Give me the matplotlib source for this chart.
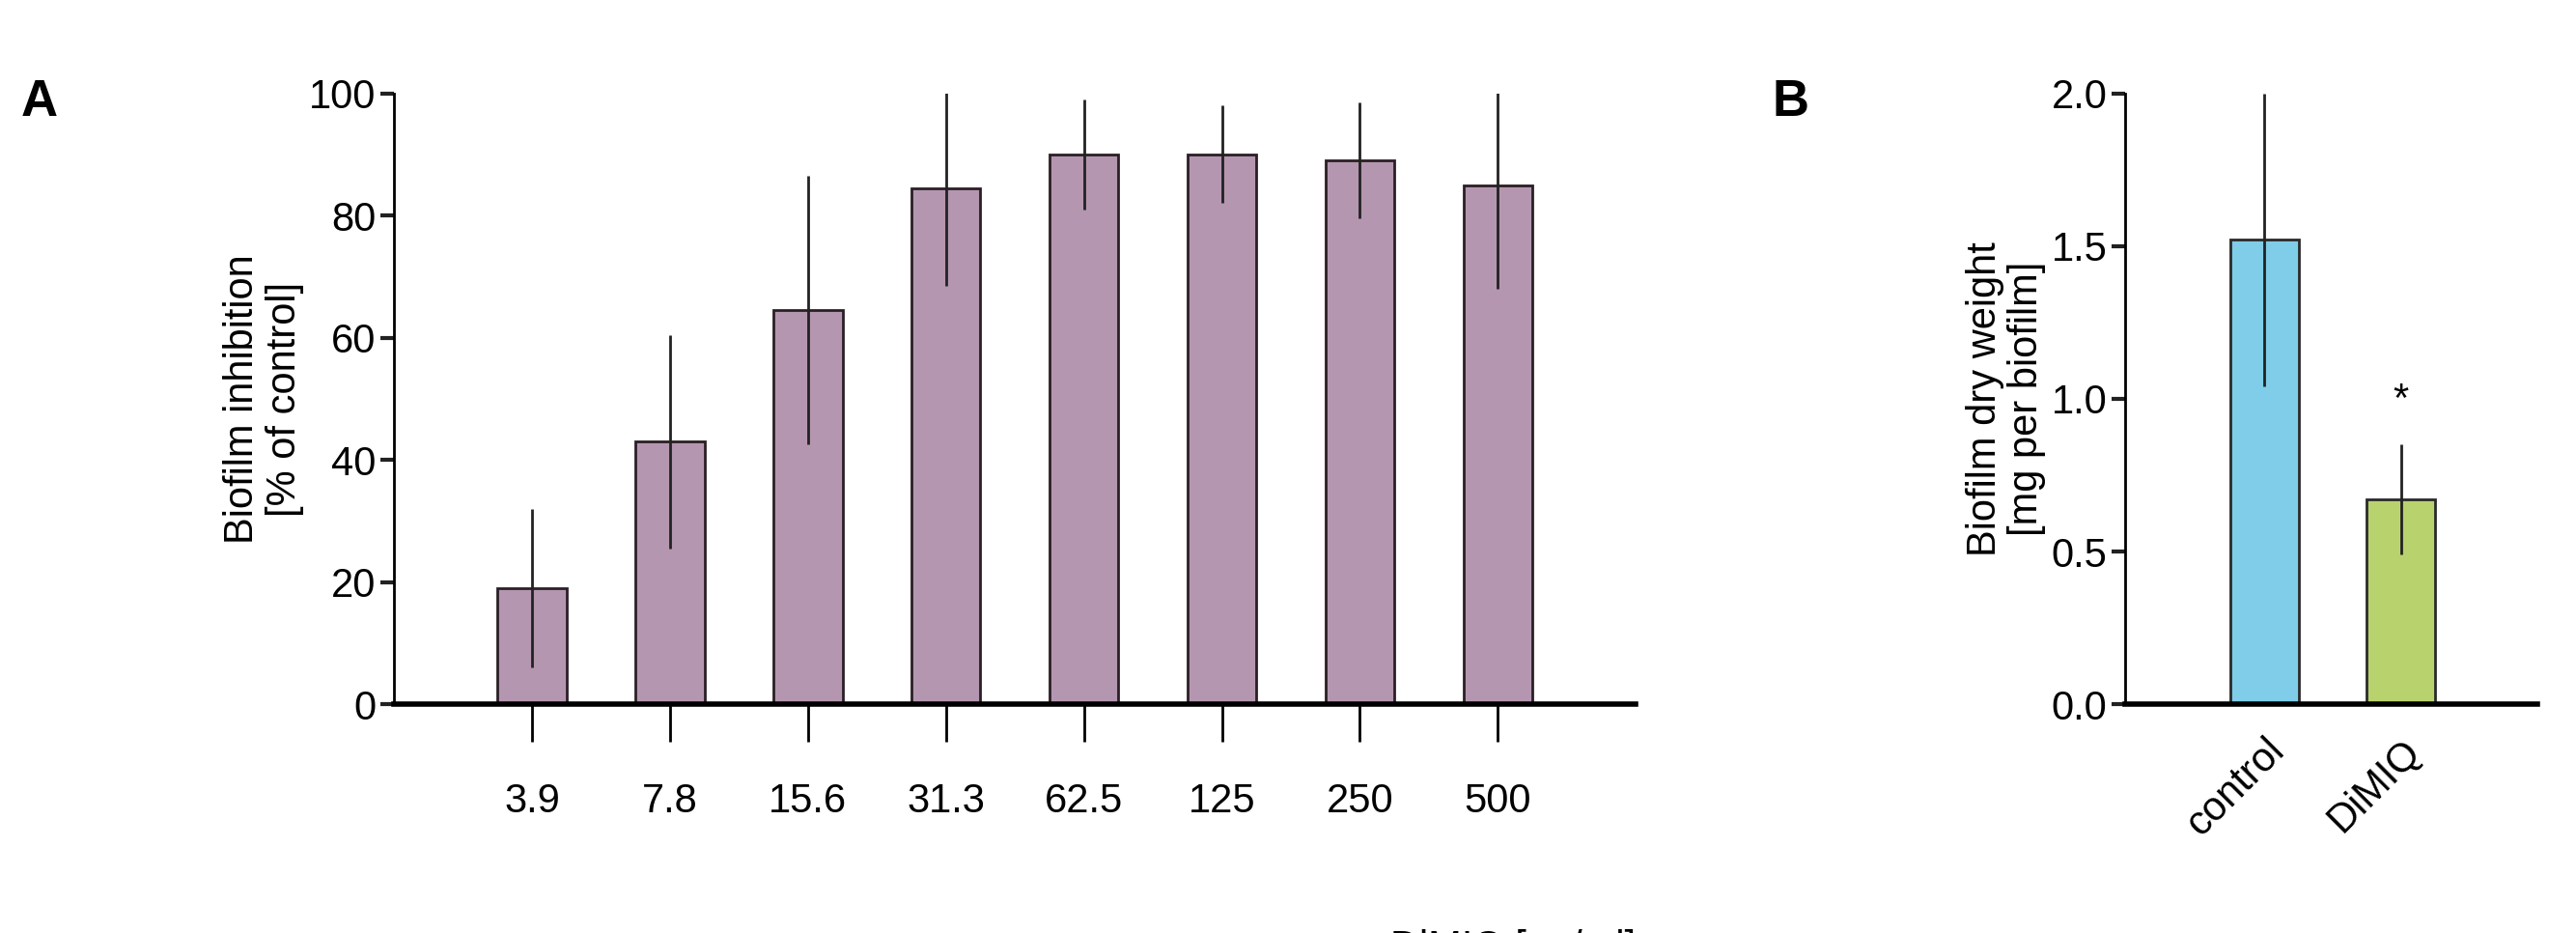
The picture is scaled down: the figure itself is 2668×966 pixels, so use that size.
import numpy as np
import matplotlib.pyplot as plt

plt.rcParams['font.family'] = ['Liberation Sans', 'DejaVu Sans']

conc = ['3.9', '7.8', '15.6', '31.3', '62.5', '125', '250', '500']
inhib = [19, 43, 64.5, 84.5, 90, 90, 89, 85]
inhib_err = [13, 17.5, 22, 16, 9, 8, 9.5, 17]

groups = ['control', 'DiMIQ']
weight = [1.52, 0.67]
weight_err = [0.48, 0.18]

fig = plt.figure(figsize=(26.68, 9.66), dpi=100)
fs = 30

def style(ax):
    for s in ['top', 'right']:
        ax.spines[s].set_visible(False)
    ax.spines['left'].set_linewidth(2)
    ax.spines['bottom'].set_linewidth(4)
    ax.tick_params(axis='y', length=10, width=3, labelsize=fs, color='#222222')
    ax.tick_params(axis='x', length=28, width=2, labelsize=fs, pad=30)

# panel A
ax = fig.add_axes([0.153, 0.245, 0.482, 0.655])
x = np.arange(len(conc))
ax.bar(x, inhib, width=0.5, color='#b596b0', edgecolor='#2a1f25', linewidth=2)
ax.errorbar(x, inhib, yerr=inhib_err, fmt='none', ecolor='#222222', elinewidth=2)
ax.set_xlim(-1.0, 8.0)
ax.set_ylim(0, 100)
ax.set_yticks(range(0, 101, 20))
ax.set_xticks(x)
ax.set_xticklabels(conc)
style(ax)
ax.set_ylabel('Biofilm inhibition\n[% of control]', fontsize=fs, linespacing=1.1)
ax.text(1.0, -0.40, 'DiMIQ [ng/ml]', transform=ax.transAxes, ha='right', va='center',
        fontsize=fs)
fig.text(0.008, 0.89, 'A', fontsize=38, fontweight='bold', va='center')

# panel B
bx = fig.add_axes([0.825, 0.245, 0.16, 0.655])
xb = np.arange(len(groups))
bx.bar(xb, weight, width=0.5, color=['#7fcde8', '#b8d26e'], edgecolor='#2a2a2a', linewidth=2)
bx.errorbar(xb, weight, yerr=weight_err, fmt='none', ecolor='#222222', elinewidth=2)
bx.set_xlim(-1.02, 2.0)
bx.set_ylim(0, 2.0)
bx.set_yticks([0, 0.5, 1.0, 1.5, 2.0])
bx.set_yticklabels(['0.0', '0.5', '1.0', '1.5', '2.0'])
bx.set_xticks(xb)
bx.set_xticklabels(groups, rotation=45, ha='right', rotation_mode='anchor')
style(bx)
bx.tick_params(axis='x', length=0, pad=20)
bx.set_ylabel('Biofilm dry weight\n[mg per biofilm]', fontsize=fs, linespacing=1.1)
bx.text(1, weight[1] + weight_err[1] + 0.08, '*', ha='center', va='bottom', fontsize=fs)
fig.text(0.688, 0.89, 'B', fontsize=38, fontweight='bold', va='center')

fig.savefig('out.png', dpi=100)
